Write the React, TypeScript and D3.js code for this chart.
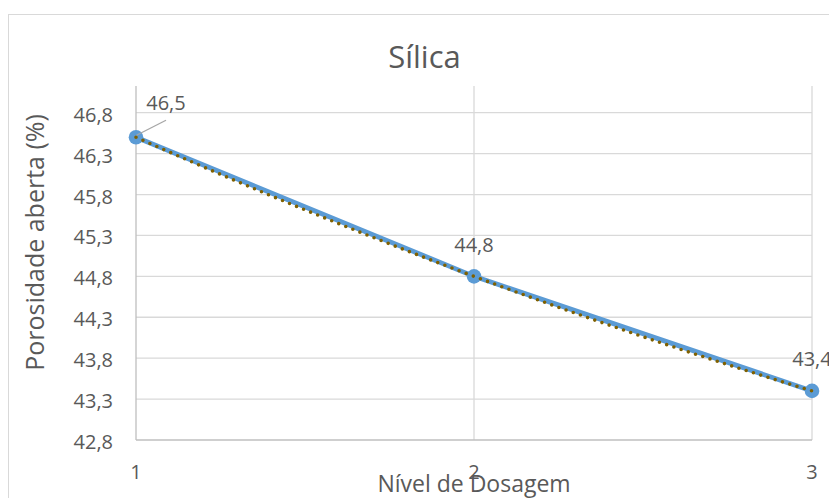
import React, { useEffect } from "react";
import * as d3 from "d3";

// Series: open porosity by dosage level
const dosageLevels = [1, 2, 3];
const porosity = [46.5, 44.8, 43.4];
const porosityLabels = ["46,5", "44,8", "43,4"];
const yTicks = [42.8, 43.3, 43.8, 44.3, 44.8, 45.3, 45.8, 46.3, 46.8];
const xTicks = [1, 2, 3];

const W = 829;
const H = 498;
const FONT = "'Open Sans', 'Noto Sans', sans-serif";
const TEXT = "#595959";

// Plot area
const plotLeft = 136;
const plotRight = 812;
const plotTop = 86;
const plotBottom = 440;

export default function App() {
  useEffect(() => {
    document.body.style.margin = "0";
  }, []);

  const x = d3.scaleLinear().domain([1, 3]).range([plotLeft, plotRight]);
  const y = d3.scaleLinear().domain([42.8, 46.8]).range([plotBottom, 112.7]);

  const fmt = (v: number) => d3.format(".1f")(v).replace(".", ",");

  const pts: [number, number][] = dosageLevels.map((d, i) => [d, porosity[i]]);

  const line = d3
    .line<[number, number]>()
    .x((d) => x(d[0]))
    .y((d) => y(d[1]));

  // Second-order polynomial trendline (Lagrange form through the series)
  const poly = (t: number) => {
    let s = 0;
    for (let i = 0; i < pts.length; i++) {
      let term = pts[i][1];
      for (let j = 0; j < pts.length; j++) {
        if (j !== i) term *= (t - pts[j][0]) / (pts[i][0] - pts[j][0]);
      }
      s += term;
    }
    return s;
  };
  const trendPts: [number, number][] = d3
    .range(0, 201)
    .map((k) => {
      const t = 1 + (k / 200) * 2;
      return [t, poly(t)] as [number, number];
    });

  return (
    <svg
      width={W}
      height={H}
      style={{ display: "block", fontFamily: FONT }}
      xmlns="http://www.w3.org/2000/svg"
    >
      <rect x={0} y={0} width={W} height={H} fill="#ffffff" />
      {/* chart frame */}
      <rect x={8.5} y={14.5} width={840} height={500} fill="none" stroke="#d9d9d9" strokeWidth={1} />

      {/* title */}
      <text x={424.5} y={68} textAnchor="middle" fontSize={31} fill={TEXT}>
        Sílica
      </text>

      {/* horizontal gridlines */}
      {yTicks.slice(1).map((t) => (
        <line
          key={"gy" + t}
          x1={plotLeft}
          x2={plotRight}
          y1={y(t)}
          y2={y(t)}
          stroke="#d9d9d9"
          strokeWidth={1.3}
        />
      ))}
      {/* vertical gridlines */}
      {xTicks.slice(1).map((t) => (
        <line
          key={"gx" + t}
          x1={x(t)}
          x2={x(t)}
          y1={plotTop}
          y2={plotBottom}
          stroke="#d9d9d9"
          strokeWidth={1.3}
        />
      ))}
      {/* axes */}
      <line x1={plotLeft} x2={plotLeft} y1={plotTop} y2={plotBottom} stroke="#bfbfbf" strokeWidth={1.3} />
      <line x1={plotLeft} x2={plotRight} y1={plotBottom} y2={plotBottom} stroke="#bfbfbf" strokeWidth={1.3} />

      {/* y tick labels */}
      {yTicks.map((t) => (
        <text key={"ly" + t} x={113} y={y(t) + 9} textAnchor="end" fontSize={20} fill={TEXT}>
          {fmt(t)}
        </text>
      ))}
      {/* x tick labels */}
      {xTicks.map((t) => (
        <text key={"lx" + t} x={x(t)} y={479} textAnchor="middle" fontSize={20} fill={TEXT}>
          {t}
        </text>
      ))}

      {/* axis titles */}
      <text x={474} y={491.5} textAnchor="middle" fontSize={23} fill={TEXT}>
        Nível de Dosagem
      </text>
      <text
        transform={`translate(44,242.5) rotate(-90)`}
        textAnchor="middle"
        fontSize={25}
        fill={TEXT}
      >
        Porosidade aberta (%)
      </text>

      {/* series line */}
      <path d={line(pts) || ""} fill="none" stroke="#5b9bd5" strokeWidth={4.8} strokeLinejoin="round" />
      {/* markers */}
      {pts.map((p, i) => (
        <circle key={"m" + i} cx={x(p[0])} cy={y(p[1])} r={7.3} fill="#5b9bd5" />
      ))}
      {/* trendline */}
      <path
        d={line(trendPts) || ""}
        fill="none"
        stroke="#7f6000"
        strokeWidth={3.6}
        strokeLinecap="round"
        strokeDasharray="0 7.6"
      />

      {/* leader line for the first label */}
      <line x1={x(1) + 0.5} y1={y(porosity[0]) - 2} x2={x(1) + 30} y2={y(porosity[0]) - 17} stroke="#a6a6a6" strokeWidth={1.3} />

      {/* data labels */}
      <text x={x(1) + 30} y={110} textAnchor="middle" fontSize={20} fill={TEXT}>
        {porosityLabels[0]}
      </text>
      {pts.slice(1).map((p, i) => (
        <text
          key={"dl" + i}
          x={x(p[0])}
          y={y(p[1]) - 24.5}
          textAnchor="middle"
          fontSize={20}
          fill={TEXT}
        >
          {porosityLabels[i + 1]}
        </text>
      ))}
    </svg>
  );
}
